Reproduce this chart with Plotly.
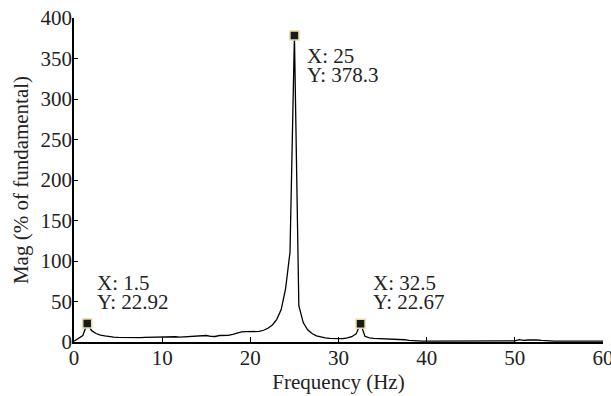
import plotly.graph_objects as go

# Frequency grid (Hz), 0.5 Hz resolution
freq = [i * 0.5 for i in range(121)]

# Magnitude (% of fundamental)
mag = [
    1.0, 4.0, 8.0, 22.92, 14.0, 10.5, 8.5, 7.5, 6.5, 6.0,      # 0 - 4.5
    5.8, 5.6, 5.5, 5.5, 5.5, 5.5, 5.6, 5.7, 5.8, 6.0,          # 5 - 9.5
    6.5, 6.5, 6.8, 6.5, 6.0, 6.2, 6.5, 6.5, 6.8, 7.5,          # 10 - 14.5
    8.0, 7.0, 6.8, 8.0, 8.0, 8.2, 9.5, 11.0, 12.5, 12.8,       # 15 - 19.5
    12.8, 12.8, 13.0, 14.5, 17.0, 21.0, 28.0, 40.0, 66.0, 111.0,  # 20 - 24.5
    378.3, 45.0, 24.0, 15.0, 10.5, 7.5, 5.8, 5.0, 4.5, 4.2,    # 25 - 29.5
    4.0, 4.2, 5.0, 6.5, 10.0, 22.67, 7.0, 5.0, 4.5, 4.3,       # 30 - 34.5
    4.2, 4.0, 4.0, 3.8, 3.5, 2.8, 2.0, 1.5, 1.3, 1.2,          # 35 - 39.5
    1.2, 1.2, 1.2, 1.2, 1.2, 1.2, 1.2, 1.2, 1.2, 1.2,          # 40 - 44.5
    1.2, 1.2, 1.2, 1.2, 1.2, 1.2, 1.2, 1.2, 1.2, 1.3,          # 45 - 49.5
    1.5, 2.8, 2.0, 2.5, 2.8, 2.5, 2.0, 1.5, 1.2, 1.2,          # 50 - 54.5
    1.2, 1.2, 1.2, 1.2, 1.2, 1.2, 1.2, 1.2, 1.2, 1.2,          # 55 - 59.5
    1.2,                                                        # 60
]

# Data tips
tip_x = [1.5, 25, 32.5]
tip_y = [22.92, 378.3, 22.67]
tip_xlabels = ["X: 1.5", "X: 25", "X: 32.5"]
tip_ylabels = ["Y: 22.92", "Y: 378.3", "Y: 22.67"]

x_ticks = [0, 10, 20, 30, 40, 50, 60]
y_ticks = [0, 50, 100, 150, 200, 250, 300, 350, 400]

FONT = "Liberation Serif, Times New Roman, serif"
TXT = "#222222"
FS = 21

fig = go.Figure()
fig.add_trace(go.Scatter(
    x=freq, y=mag, mode="lines",
    line=dict(color="black", width=1.3),
    showlegend=False, hoverinfo="skip",
))
fig.add_trace(go.Scatter(
    x=tip_x, y=tip_y, mode="markers",
    marker=dict(symbol="square", size=9, color="#1a1a1a",
                line=dict(color="#e6dca8", width=1.5)),
    showlegend=False, hoverinfo="skip",
))

offsets = [(9, 40, 21), (12, -20, -39), (11, 41, 22)]
for xv, yv, lx, ly, (dx, dy1, dy2) in zip(tip_x, tip_y, tip_xlabels, tip_ylabels, offsets):
    for lab, dy in ((lx, dy1), (ly, dy2)):
        fig.add_annotation(
            x=xv, y=yv, xref="x", yref="y", text=lab, showarrow=False,
            xanchor="left", yanchor="middle", xshift=dx, yshift=dy,
            height=18, borderpad=0,
            font=dict(family=FONT, size=FS, color=TXT),
        )

fig.update_layout(
    width=611, height=396,
    margin=dict(l=74, r=8, t=18, b=53.5, autoexpand=False),
    paper_bgcolor="white", plot_bgcolor="white",
    font=dict(family=FONT, size=FS, color=TXT),
)
fig.update_xaxes(
    range=[0, 60], tickvals=x_ticks, ticktext=[str(v) for v in x_ticks],
    showgrid=False, zeroline=False, automargin=False,
    showline=True, linecolor="black", linewidth=2,
    ticks="inside", ticklen=5, tickcolor="black", tickwidth=1,
    ticklabeloverflow="allow", ticklabelstandoff=-4,
    tickfont=dict(family=FONT, size=FS, color=TXT),
    title=dict(text="Frequency (Hz)", font=dict(family=FONT, size=FS, color=TXT), standoff=2),
)
fig.update_yaxes(
    range=[0, 400], tickvals=y_ticks, ticktext=[str(v) for v in y_ticks],
    showgrid=False, zeroline=False, automargin=False,
    showline=True, linecolor="black", linewidth=1.5,
    ticks="inside", ticklen=4, tickcolor="black", tickwidth=1,
    ticklabeloverflow="allow", ticklabelstandoff=-4,
    tickfont=dict(family=FONT, size=FS, color=TXT),
    title=dict(text="Mag (% of fundamental)", font=dict(family=FONT, size=FS, color=TXT), standoff=6),
)

fig.write_html("out.html", config={"displayModeBar": False},
               post_script="document.body.style.margin='0';")
